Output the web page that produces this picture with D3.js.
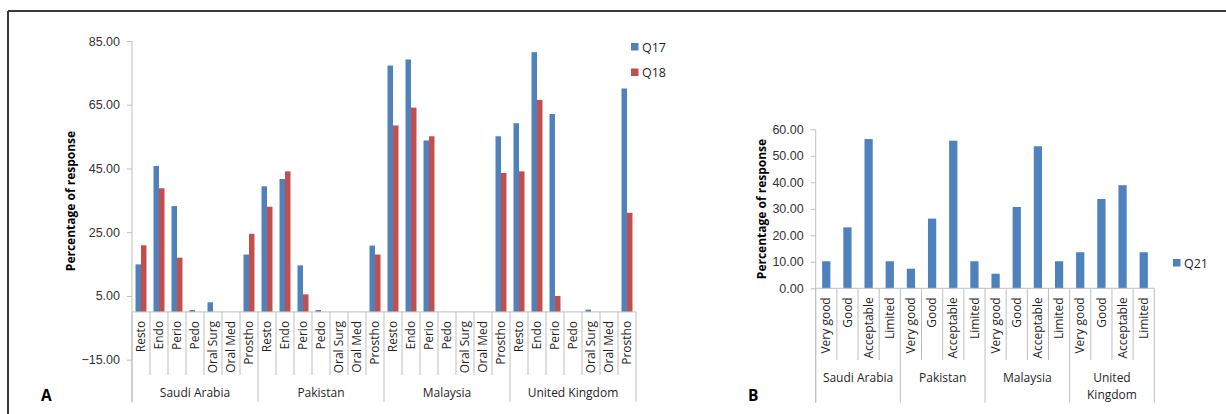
<!DOCTYPE html>
<html>
<head>
<meta charset="utf-8">
<script src="https://cdn.jsdelivr.net/npm/d3@7"></script>
<style>
  body { margin: 0; background: #fff; }
  svg { display: block; font-family: "Open Sans", sans-serif; }
  .axis path, .axis line { stroke: #bfbfbf; }
  .axis text { fill: #333; font-size: 12.5px; }
</style>
</head>
<body>
<div id="chart"></div>
<script>
// Data
const countries = ["Saudi Arabia", "Pakistan", "Malaysia", "United Kingdom"];
const specialties = ["Resto", "Endo", "Perio", "Pedo", "Oral Surg", "Oral Med", "Prostho"];
const q17 = [14.9, 45.8, 33.2, 0.6, 3.0, 0, 18.0,
             39.4, 41.7, 14.6, 0.6, 0, 0, 20.8,
             77.3, 79.2, 53.8, 0, 0, 0, 55.1,
             59.2, 81.5, 62.1, 0, 0.7, 0, 70.1];
const q18 = [20.9, 38.8, 17.0, 0, 0, 0, 24.5,
             33.0, 44.1, 5.5, 0, 0, 0, 18.0,
             58.5, 64.1, 55.1, 0, 0, 0, 43.6,
             44.1, 66.5, 5.0, 0, 0, 0, 31.1];
const ticksA = [-15, 5, 25, 45, 65, 85];

const ratings = ["Very good", "Good", "Acceptable", "Limited"];
const q21 = [10.2, 23.0, 56.3, 10.2,
             7.4, 26.3, 55.7, 10.2,
             5.5, 30.7, 53.6, 10.2,
             13.6, 33.7, 38.9, 13.6];
const ticksB = [0, 10, 20, 30, 40, 50, 60];

const blue = "#4f81bd", red = "#c0504d";
const gridGray = "#bfbfbf";
const textCol = "#1f1f1f";

const W = 1226, H = 414;
const svg = d3.select("#chart").append("svg")
    .attr("width", W)
    .attr("height", H);

// Outer frame (top and left edges only)
svg.append("line").attr("x1", 8).attr("x2", W).attr("y1", 11).attr("y2", 11)
    .attr("stroke", "#3a3a3a").attr("stroke-width", 2);
svg.append("line").attr("x1", 8).attr("x2", 8).attr("y1", 11).attr("y2", H)
    .attr("stroke", "#3a3a3a").attr("stroke-width", 2);

// helper: multi-level category axis (inner labels rotated, outer group labels)
function categoryAxis(g, x, keys, groups, inner, y0, innerBottom, groupBottom, labelY) {
    const n = inner.length;
    // separators between inner categories
    keys.forEach((k, i) => {
        const isGroupEdge = i % n === 0;
        g.append("line")
            .attr("x1", x(k)).attr("x2", x(k))
            .attr("y1", y0).attr("y2", isGroupEdge ? groupBottom : innerBottom)
            .attr("stroke", gridGray);
    });
    const last = x(keys[keys.length - 1]) + x.step();
    g.append("line").attr("x1", last).attr("x2", last)
        .attr("y1", y0).attr("y2", groupBottom).attr("stroke", gridGray);

    // rotated inner labels
    g.selectAll(".cat")
        .data(keys)
        .enter()
        .append("text")
        .attr("transform", k => `translate(${x(k) + x.step() / 2},${y0 + 9}) rotate(-90)`)
        .attr("dy", "0.35em")
        .attr("text-anchor", "end")
        .style("font-size", "12px")
        .attr("fill", textCol)
        .text((k, i) => inner[i % n]);

    // group labels
    groups.forEach((c, gi) => {
        const cx = x(keys[gi * n]) + x.step() * n / 2;
        const t = g.append("text")
            .attr("x", cx)
            .attr("text-anchor", "middle")
            .style("font-size", "12px")
            .attr("fill", textCol);
        const lines = labelY.wrap && c.indexOf(" ") > 0 && c.length > 12 ? c.split(" ") : [c];
        lines.forEach((ln, li) => {
            t.append("tspan").attr("x", cx).attr("y", labelY.y + li * 17).text(ln);
        });
    });
}

// ---------- Chart A ----------
const keysA = [];
countries.forEach(c => specialties.forEach(s => keysA.push(c + "|" + s)));

const xA = d3.scaleBand().domain(keysA).range([132, 636]).padding(0);
const sub = d3.scaleBand().domain(["Q17", "Q18"]).range([0, xA.bandwidth()]).paddingOuter(0.64).paddingInner(0);
const yA = d3.scaleLinear().domain([-15, 85]).range([359.7, 41]);

const gA = svg.append("g");

gA.append("g")
    .attr("class", "axis")
    .attr("transform", "translate(132,0)")
    .call(d3.axisLeft(yA).tickValues(ticksA).tickFormat(d3.format(".2f")).tickSize(5).tickPadding(7))
    .call(g => g.select(".domain").remove());
gA.append("line").attr("x1", 132).attr("x2", 132).attr("y1", yA(85)).attr("y2", 402)
    .attr("stroke", gridGray);

const seriesA = [{ name: "Q17", values: q17, color: blue }, { name: "Q18", values: q18, color: red }];
seriesA.forEach(s => {
    gA.selectAll(".bar-" + s.name)
        .data(keysA)
        .enter()
        .append("rect")
        .attr("x", k => xA(k) + sub(s.name))
        .attr("width", sub.bandwidth())
        .attr("y", (k, i) => yA(s.values[i]))
        .attr("height", (k, i) => yA(0) - yA(s.values[i]))
        .attr("fill", s.color);
});

gA.append("line").attr("x1", 132).attr("x2", 636).attr("y1", yA(0)).attr("y2", yA(0))
    .attr("stroke", gridGray);
categoryAxis(gA, xA, keysA, countries, specialties, yA(0), 375, 402, { y: 397, wrap: false });

// y title
gA.append("text")
    .attr("transform", "translate(71,201) rotate(-90)")
    .attr("dy", "0.35em")
    .attr("text-anchor", "middle")
    .style("font-size", "12px")
    .style("font-weight", "bold")
    .attr("fill", "#000")
    .text("Percentage of response");

// legend
seriesA.forEach((s, i) => {
    gA.append("rect").attr("x", 631).attr("y", 43 + i * 25.5).attr("width", 7.5).attr("height", 7.5)
        .attr("fill", s.color);
    gA.append("text").attr("x", 642).attr("y", 51.5 + i * 25.5)
        .style("font-size", "12.5px").attr("fill", textCol).text(s.name);
});

gA.append("text").attr("x", 41).attr("y", 401)
    .style("font-size", "15.5px").style("font-weight", "bold").attr("fill", "#000").text("A");

// ---------- Chart B ----------
const keysB = [];
countries.forEach(c => ratings.forEach(r => keysB.push(c + "|" + r)));

const xB = d3.scaleBand().domain(keysB).range([815.7, 1154.3]).paddingInner(0.61).paddingOuter(0.305);
const yB = d3.scaleLinear().domain([0, 60]).range([288.3, 129.3]);

const gB = svg.append("g");

gB.append("g")
    .attr("class", "axis")
    .attr("transform", "translate(815.7,0)")
    .call(d3.axisLeft(yB).tickValues(ticksB).tickFormat(d3.format(".2f")).tickSize(5).tickPadding(7))
    .call(g => g.select(".domain").remove());
gB.append("line").attr("x1", 815.7).attr("x2", 815.7).attr("y1", yB(60)).attr("y2", 402.7)
    .attr("stroke", gridGray);

gB.selectAll(".bar-q21")
    .data(keysB)
    .enter()
    .append("rect")
    .attr("x", k => xB(k))
    .attr("width", xB.bandwidth())
    .attr("y", (k, i) => yB(q21[i]))
    .attr("height", (k, i) => yB(0) - yB(q21[i]))
    .attr("fill", blue);

gB.append("line").attr("x1", 815.7).attr("x2", 1154.3).attr("y1", yB(0)).attr("y2", yB(0))
    .attr("stroke", gridGray);

// category boundaries use step edges, not band starts
const xBEdge = d3.scaleBand().domain(keysB).range([815.7, 1154.3]).padding(0);
categoryAxis(gB, xBEdge, keysB, countries, ratings, yB(0), 360, 402.7, { y: 382, wrap: true });

gB.append("text")
    .attr("transform", "translate(761.5,209) rotate(-90)")
    .attr("dy", "0.35em")
    .attr("text-anchor", "middle")
    .style("font-size", "12px")
    .style("font-weight", "bold")
    .attr("fill", "#000")
    .text("Percentage of response");

gB.append("rect").attr("x", 1173).attr("y", 259).attr("width", 7.5).attr("height", 7.5).attr("fill", blue);
gB.append("text").attr("x", 1184).attr("y", 267.5)
    .style("font-size", "12.5px").attr("fill", textCol).text("Q21");

gB.append("text").attr("x", 748).attr("y", 401)
    .style("font-size", "15.5px").style("font-weight", "bold").attr("fill", "#000").text("B");
</script>
</body>
</html>
